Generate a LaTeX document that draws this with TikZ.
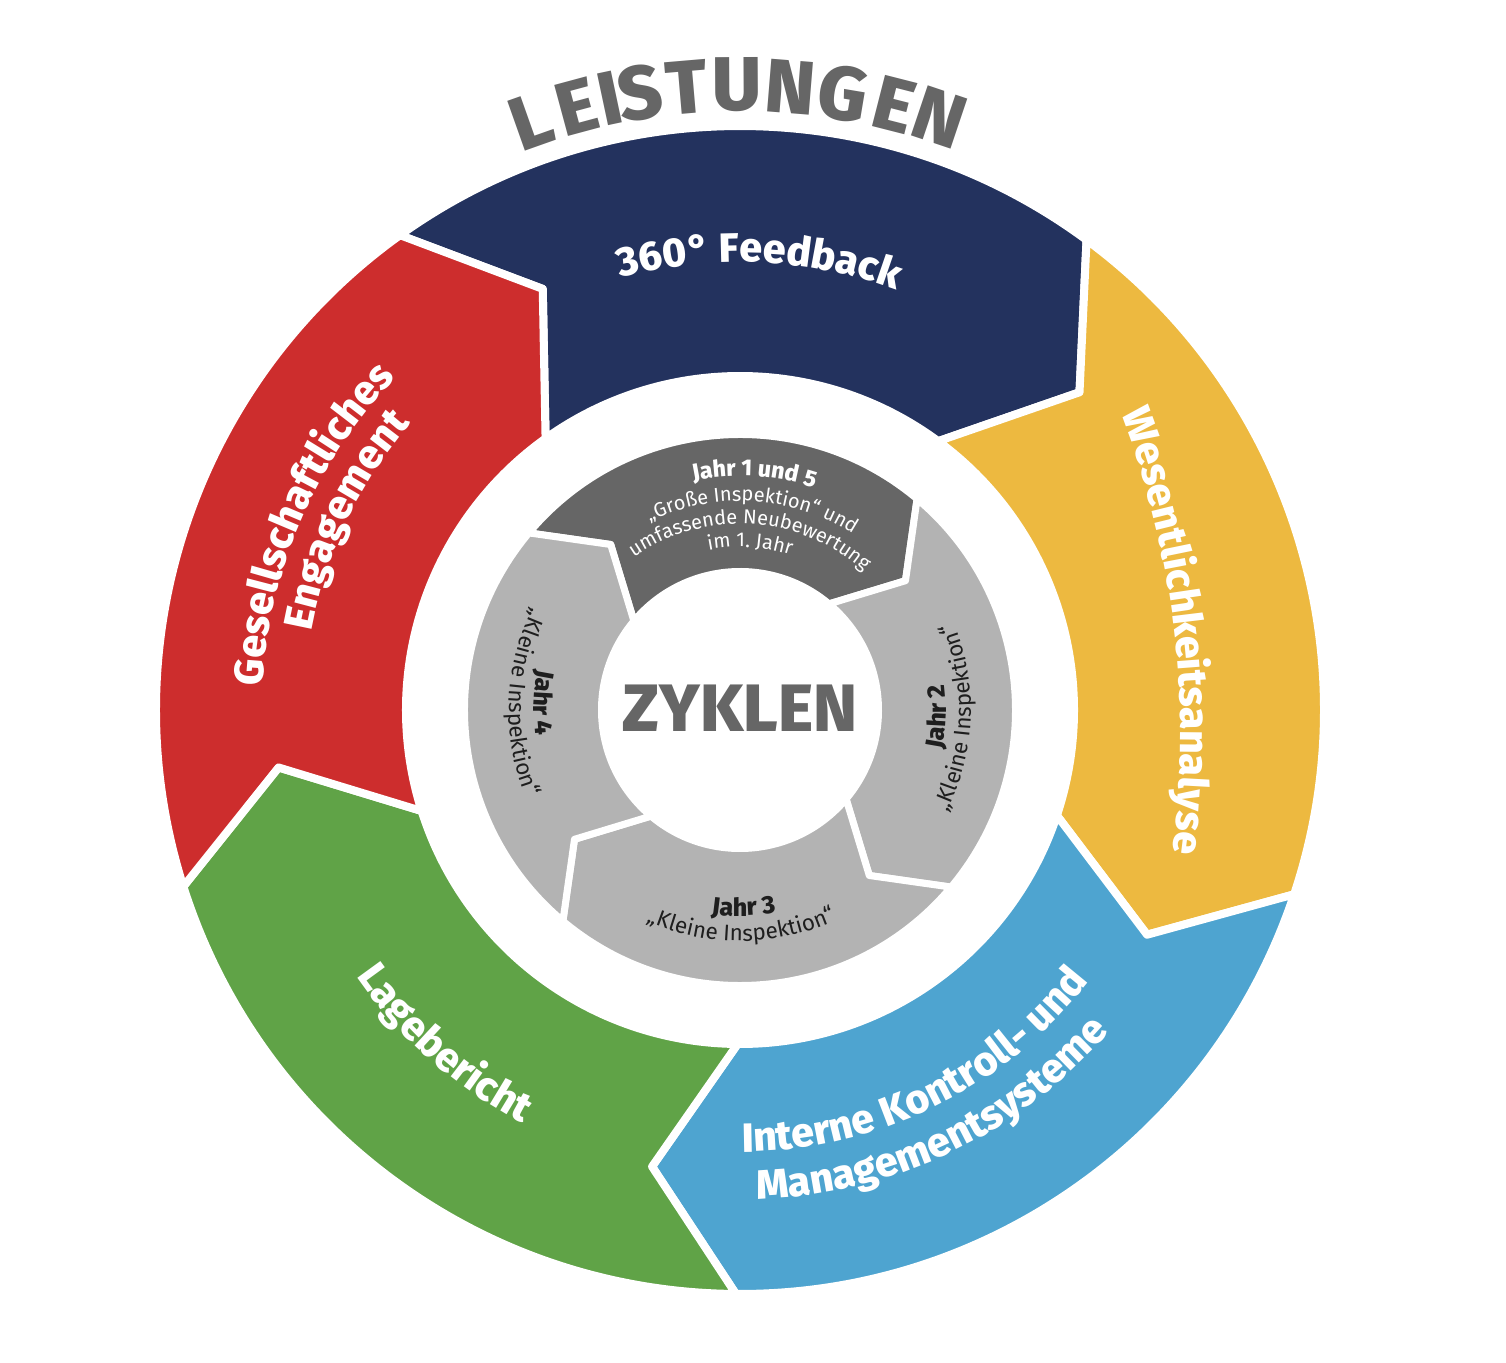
\documentclass[tikz,border=0pt]{standalone}
\usepackage{fontspec}
\setmainfont{Fira Sans}
\newfontfamily\xbfont{Fira Sans ExtraBold}
\usetikzlibrary{decorations.text}
\definecolor{cnavy}{RGB}{35,50,94}
\definecolor{cyellow}{RGB}{237,185,64}
\definecolor{cblue}{RGB}{78,164,208}
\definecolor{cgreen}{RGB}{96,163,71}
\definecolor{cred}{RGB}{205,45,45}
\definecolor{cdark}{RGB}{102,102,102}
\definecolor{clight}{RGB}{179,179,179}
\definecolor{ctext}{RGB}{30,30,30}
\newcommand{\lblfont}{\fontsize{41}{49}\selectfont\xbfont\color{white}}
\newcommand{\jahrfont}{\fontsize{25}{29}\selectfont\xbfont}
\newcommand{\jahrfontb}{\fontsize{23}{27}\selectfont\xbfont}
\newcommand{\inspfont}{\fontsize{22.5}{26}\selectfont}
\newcommand{\inspfontb}{\fontsize{20}{24}\selectfont}
\newcommand{\outerseg}[2]{%
  \filldraw[fill=#2, draw=white, line width=8pt, line join=round]
    ({#1}:584pt) arc[start angle=#1, end angle=#1-72, radius=584pt]
    -- ({#1-82.5}:465pt) -- ({#1-72}:334pt)
    arc[start angle=#1-72, end angle=#1, radius=334pt]
    -- ({#1-10.5}:465pt) -- cycle;}
\newcommand{\innerseg}[2]{%
  \filldraw[fill=#2, draw=white, line width=7pt, line join=round]
    ({#1}:275.5pt) arc[start angle=#1, end angle=#1-90, radius=275.5pt]
    -- ({#1-102}:210pt) -- ({#1-90}:138.5pt)
    arc[start angle=#1-90, end angle=#1, radius=138.5pt]
    -- ({#1-12}:210pt) -- cycle;}
\newcommand{\cwtext}[4]{%
  \path[decorate, decoration={text along path, text align=center, text={|#3|#4}}]
    ({#2+60}:#1pt) arc[start angle=#2+60, end angle=#2-60, radius=#1pt];}
\newcommand{\ccwtext}[4]{%
  \path[decorate, decoration={text along path, text align=center, text={|#3|#4}}]
    ({#2-60}:#1pt) arc[start angle=#2-60, end angle=#2+60, radius=#1pt];}
\begin{document}
\begin{tikzpicture}[x=1pt,y=1pt,
  leist/.style={text=cdark, font=\fontsize{76}{84}\selectfont\xbfont, inner sep=0pt},
  zyk/.style={text=cdark, font=\fontsize{67}{72}\selectfont\xbfont, inner sep=0pt}]
\useasboundingbox (-740,-652) rectangle (766,710);
\fill[white] (-740,-652) rectangle (766,710);
% outer ring
\outerseg{125.6}{cnavy}
\outerseg{53.6}{cyellow}
\outerseg{-18.4}{cblue}
\outerseg{-90.4}{cgreen}
\outerseg{-162.4}{cred}
% inner ring
\innerseg{140}{cdark}
\innerseg{50}{clight}
\innerseg{-40}{clight}
\innerseg{-130}{clight}
% title
\foreach \ch/\a [count=\i] in {L/109.5,E/105.1,I/102.0,S/99.2,T/94.9,U/90.3,N/85.4,G/80.5,E/75.7,N/71.4}
  \node[leist, rotate=\a-90] (t\i) at (\a:625pt) {\ch};
\node[zyk] (zyklen) at (0,2) {ZYKLEN};
% outer labels
\cwtext{448}{87.5}{\lblfont}{360° Feedback}
\path[shift={(-447.5,-23.5)}, decorate, decoration={text along path, text align=center,
  text={|\lblfont|Wesentlichkeitsanalyse}}]
  (36.7:888pt) arc[start angle=36.7, end angle=-23.3, radius=888pt];
\cwtext{478}{156.6}{\lblfont}{Gesellschaftliches}
\cwtext{436}{154.3}{\lblfont}{Engagement}
\ccwtext{467}{228.5}{\lblfont}{Lagebericht}
\ccwtext{442}{-63.8}{\lblfont}{Interne Kontroll- und}
\ccwtext{490}{-64.5}{\lblfont}{Managementsysteme}
% inner labels
\cwtext{234}{86.5}{\jahrfontb\color{white}}{Jahr 1 und 5}
\cwtext{209}{86.5}{\inspfontb\color{white}}{„Große Inspektion“ und}
\cwtext{186}{86.5}{\inspfontb\color{white}}{umfassende Neubewertung}
\cwtext{163}{86.5}{\inspfontb\color{white}}{im 1. Jahr}
\ccwtext{206}{-2}{\jahrfont\color{ctext}}{Jahr 2}
\ccwtext{231}{-2}{\inspfont\color{ctext}}{„Kleine Inspektion“}
\ccwtext{206}{-89}{\jahrfont\color{ctext}}{Jahr 3}
\ccwtext{231}{-89.5}{\inspfont\color{ctext}}{„Kleine Inspektion“}
\ccwtext{206}{178}{\jahrfont\color{ctext}}{Jahr 4}
\ccwtext{231}{178}{\inspfont\color{ctext}}{„Kleine Inspektion“}
\end{tikzpicture}
\end{document}
